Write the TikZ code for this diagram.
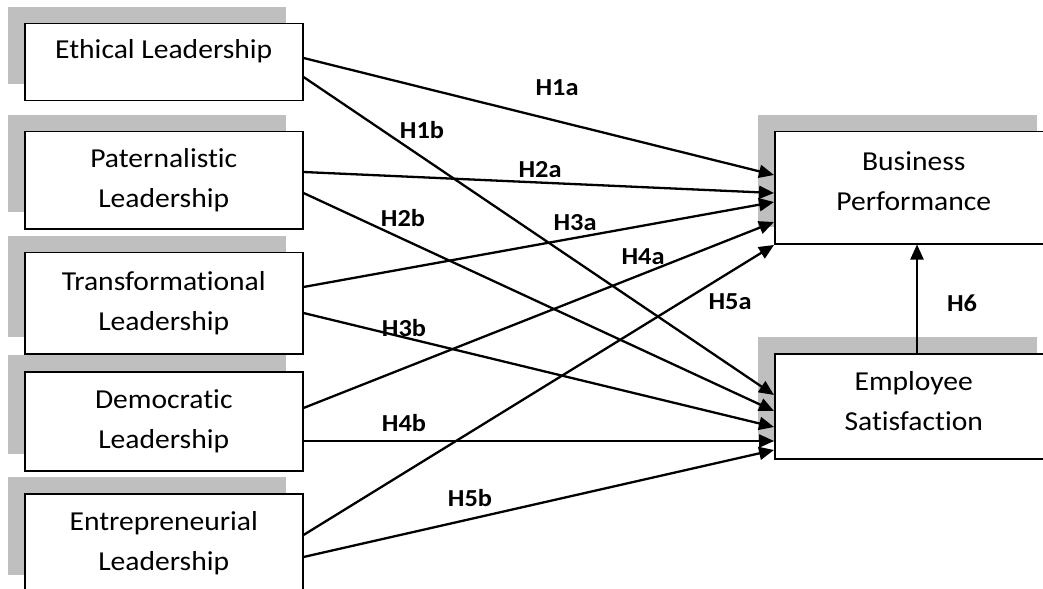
\documentclass[tikz,border=0pt]{standalone}
\usepackage{fontspec}
\setmainfont{Carlito}[FakeStretch=1.08,Ligatures=NoCommon]
\usetikzlibrary{arrows.meta,calc}
\definecolor{shadowgray}{HTML}{BFBFBF}
\begin{document}
\begin{tikzpicture}[x=1bp,y=-1bp,
  shadowbox/.style={fill=shadowgray,draw=none},
  box/.style={draw=black,line width=1.5bp,fill=white,minimum width=278bp,anchor=north west,inner sep=0pt,align=center,font=\fontsize{27.5}{40}\selectfont},
  arr/.style={line width=2.3bp,-{Triangle[length=15bp,width=13bp]}},
  lab/.style={font=\fontsize{24.5}{26}\selectfont\bfseries,inner sep=0pt}]
\useasboundingbox (0,0) rectangle (1043,589);
\clip (0,0) rectangle (1043,589);
% shadows
\fill[shadowbox] (8,7) rectangle +(278,77);
\fill[shadowbox] (8,115) rectangle +(278,97);
\fill[shadowbox] (8,236) rectangle +(278,101);
\fill[shadowbox] (8,355) rectangle +(278,99);
\fill[shadowbox] (8,477) rectangle +(278,98);
\fill[shadowbox] (758,115) rectangle +(279,112);
\fill[shadowbox] (758,337) rectangle +(279,105);
% boxes
\node[box,minimum height=77bp,text height=18bp,text depth=25bp] (eth) at (24,23) {Ethical Leadership};
\node[box,minimum height=97bp] (pat) at (24,131) {Paternalistic\\Leadership};
\node[box,minimum height=101bp] (tra) at (24,252) {Transformational\\Leadership};
\node[box,minimum height=99bp] (dem) at (24,371) {Democratic\\Leadership};
\node[box,minimum height=99bp] (ent) at (24,493) {Entrepreneurial\\Leadership};
\node[box,minimum height=112bp,text depth=14bp] (bp) at (774,131) {Business\\Performance};
\node[box,minimum height=105bp,text depth=10bp] (es) at (774,353) {Employee\\Satisfaction};
% arrows to Business Performance
\draw[arr] ($(eth.north east)+(0,35)$) -- ($(bp.north west)+(0,44)$);
\draw[arr] ($(pat.north east)+(0,41)$) -- ($(bp.north west)+(0,62)$);
\draw[arr] ($(tra.north east)+(0,35)$) -- ($(bp.north west)+(0,71)$);
\draw[arr] ($(dem.north east)+(0,37)$) -- ($(bp.north west)+(0,91)$);
\draw[arr] ($(ent.north east)+(0,42)$) -- ($(bp.north west)+(0,114)$);
% arrows to Employee Satisfaction
\draw[arr] ($(eth.north east)+(0,54)$) -- ($(es.north west)+(0,42)$);
\draw[arr] ($(pat.north east)+(0,62)$) -- ($(es.north west)+(0,58)$);
\draw[arr] ($(tra.north east)+(0,61)$) -- ($(es.north west)+(0,74)$);
\draw[arr] ($(dem.north east)+(0,70)$) -- ($(es.north west)+(0,88)$);
\draw[arr] ($(ent.north east)+(0,64)$) -- ($(es.north west)+(0,97)$);
% H6
\draw[arr] ($(es.north west)+(143,0)$) -- ($(bp.south west)+(143,0)$);
% labels
\node[lab] (l1a) at (557,88) {H1a};
\node[lab] (l1b) at (422,130) {H1b};
\node[lab] (l2a) at (540,170) {H2a};
\node[lab] (l2b) at (403,218) {H2b};
\node[lab] (l3a) at (575,223) {H3a};
\node[lab] (l4a) at (643,257) {H4a};
\node[lab] (l5a) at (730,302) {H5a};
\node[lab] (l3b) at (404,328) {H3b};
\node[lab] (l4b) at (404,423) {H4b};
\node[lab] (l5b) at (470,498) {H5b};
\node[lab] (l6) at (962,303) {H6};
\end{tikzpicture}
\end{document}
